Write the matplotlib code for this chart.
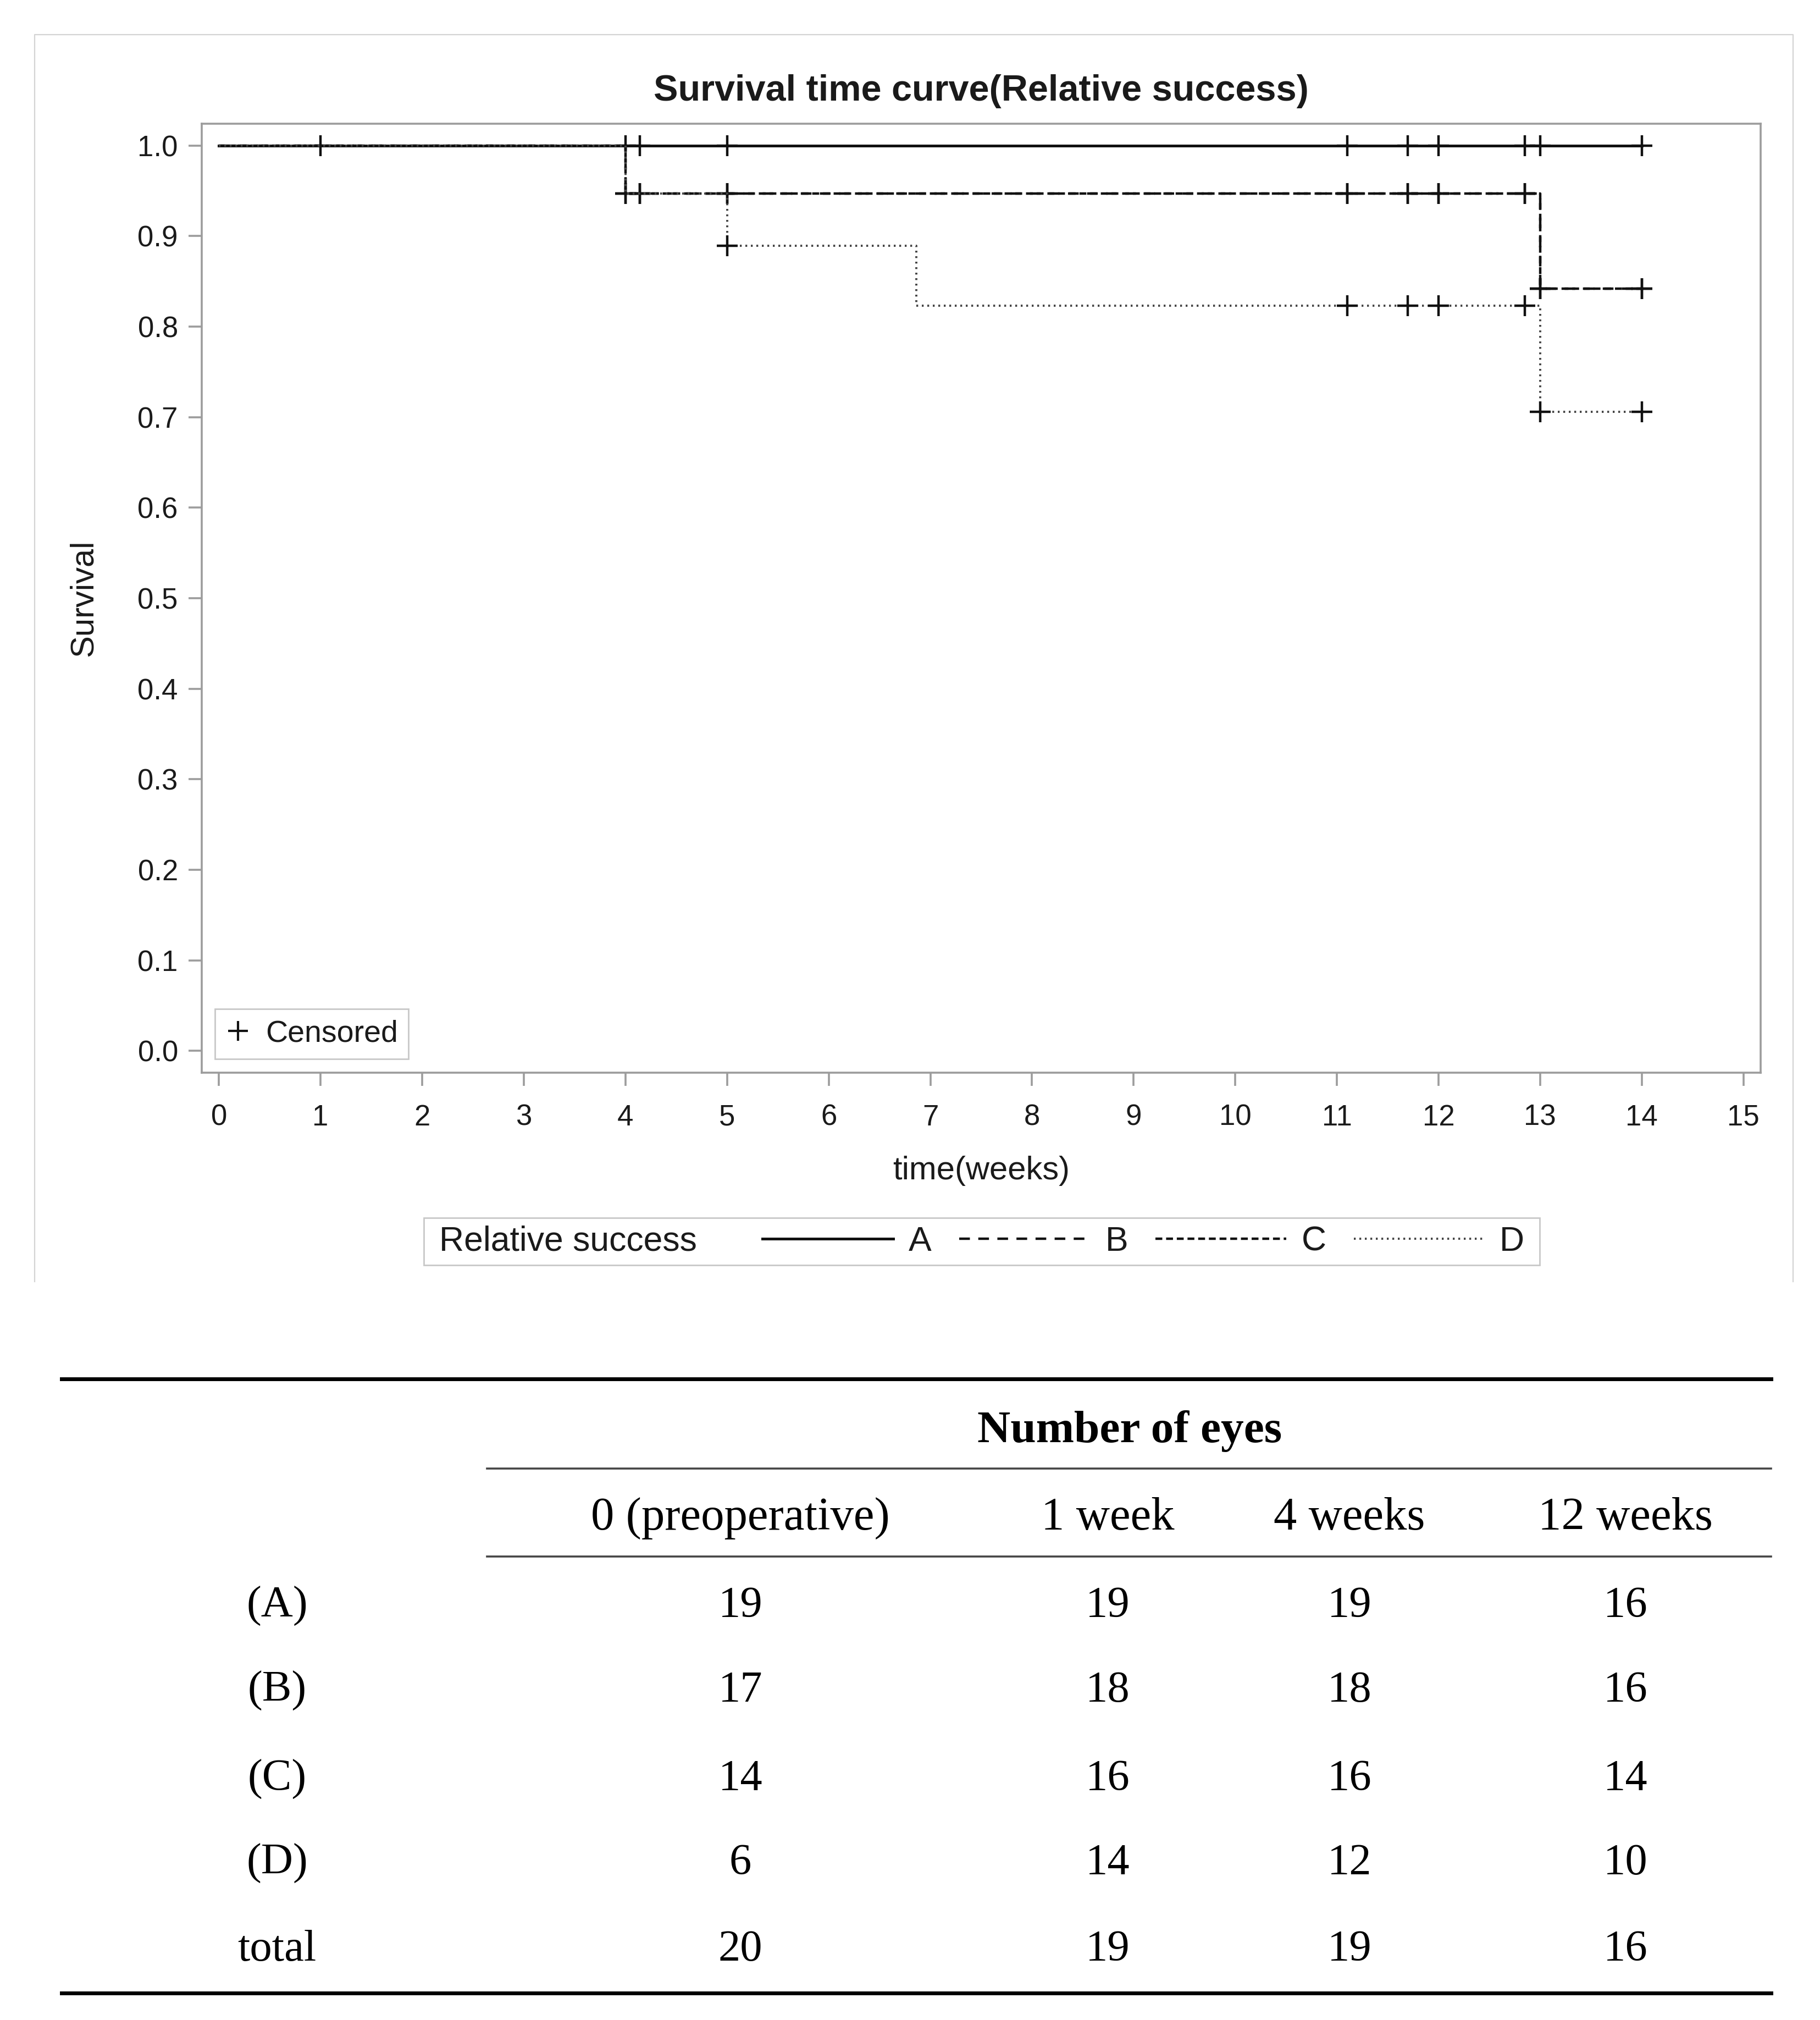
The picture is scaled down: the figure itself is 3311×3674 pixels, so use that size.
import matplotlib
matplotlib.use('Agg')
import matplotlib.pyplot as plt
from matplotlib.lines import Line2D
from matplotlib.offsetbox import DrawingArea, HPacker
import numpy as np

plt.rcParams['font.family'] = ['Liberation Sans', 'DejaVu Sans']
plt.rcParams['lines.scale_dashes'] = False

# ---------------- data ----------------
groups = ['A', 'B', 'C', 'D']

a_times = [0, 14]
a_surv = [1.0, 1.0]
b_times = [0, 4, 13, 14]
b_surv = [1.0, 0.947, 0.842, 0.842]
c_times = [0, 4, 13, 14]
c_surv = [1.0, 0.947, 0.842, 0.842]
d_times = [0, 4, 5, 6.86, 13, 14]
d_surv = [1.0, 0.947, 0.889, 0.823, 0.706, 0.706]

a_cens_t = [1, 4, 4.14, 5, 11.1, 11.7, 12, 12.85, 13, 14]
a_cens_s = [1.0, 1.0, 1.0, 1.0, 1.0, 1.0, 1.0, 1.0, 1.0, 1.0]
b_cens_t = [4, 4.14, 5, 11.1, 11.7, 12, 12.85, 13, 14]
b_cens_s = [0.947, 0.947, 0.947, 0.947, 0.947, 0.947, 0.947, 0.842, 0.842]
c_cens_t = [4, 4.14, 5, 11.1, 11.7, 12, 12.85, 13, 14]
c_cens_s = [0.947, 0.947, 0.947, 0.947, 0.947, 0.947, 0.947, 0.842, 0.842]
d_cens_t = [5, 11.1, 11.7, 12, 12.85, 13, 14]
d_cens_s = [0.889, 0.823, 0.823, 0.823, 0.823, 0.706, 0.706]

x_ticks = list(range(0, 16))
y_ticks = [0.0, 0.1, 0.2, 0.3, 0.4, 0.5, 0.6, 0.7, 0.8, 0.9, 1.0]

table_cols = ['0 (preoperative)', '1 week', '4 weeks', '12 weeks']
table_rows = ['(A)', '(B)', '(C)', '(D)', 'total']
eyes_A = [19, 19, 19, 16]
eyes_B = [17, 18, 18, 16]
eyes_C = [14, 16, 16, 14]
eyes_D = [6, 14, 12, 10]
eyes_total = [20, 19, 19, 16]

# ---------------- styles ----------------
styles = {
    'A': dict(linestyle='-', lw=3.6, color='#111111'),
    'B': dict(linestyle=(0, (14, 11)), lw=3.2, color='#111111'),
    'C': dict(linestyle=(0, (9, 5)), lw=3.2, color='#111111'),
    'D': dict(linestyle=(0, (2.4, 4.8)), lw=2.8, color='#444444'),
}
spine_c = '#9c9c9c'
text_c = '#1a1a1a'
mk = dict(ls='none', marker='+', ms=28, mew=3.2, color='#111111')

fig = plt.figure(figsize=(33.11, 36.74), dpi=100)
ax = fig.add_axes([0.1108, 0.46898, 0.8566, 0.46978])

series = [(a_times, a_surv, a_cens_t, a_cens_s),
          (b_times, b_surv, b_cens_t, b_cens_s),
          (c_times, c_surv, c_cens_t, c_cens_s),
          (d_times, d_surv, d_cens_t, d_cens_s)]
handles = []
for g, (t, s, ct, cs) in zip(groups, series):
    ln, = ax.step(t, s, where='post', **styles[g])
    handles.append(ln)
    ax.plot(ct, cs, **mk)

ax.set_xlim(-0.17, 15.17)
ax.set_ylim(-0.024, 1.024)
ax.set_xticks(x_ticks)
ax.set_yticks(y_ticks)
ax.set_yticklabels([f'{v:.1f}' for v in y_ticks])
for sp in ax.spines.values():
    sp.set_color(spine_c)
    sp.set_linewidth(2.6)
ax.tick_params(axis='both', length=17, width=2.6, color=spine_c,
               labelsize=38, labelcolor=text_c)
ax.tick_params(axis='x', pad=24)
ax.tick_params(axis='y', pad=14)

ax.set_ylabel('Survival', fontsize=43, color=text_c)
ax.yaxis.set_label_coords(-0.0758, 0.5)
ax.yaxis.label.set_va('center')
ax.set_xlabel('time(weeks)', fontsize=43, color=text_c)
ax.xaxis.set_label_coords(0.5, -0.1035)
ax.xaxis.label.set_va('center')

ax.set_title('Survival time curve(Relative success)', fontsize=48,
             fontweight='bold', color=text_c, pad=30)

cens_handle = Line2D([], [], ls='none', marker='+', ms=26, mew=3.0, color='#111111')
leg1 = ax.legend(handles=[cens_handle], labels=['Censored'], loc='lower left',
                 bbox_to_anchor=(0.0085, 0.0145), borderaxespad=0,
                 fancybox=False, edgecolor='#c8c8c8', fontsize=40,
                 handlelength=0.8, handletextpad=0.5, borderpad=0.35,
                 framealpha=1)
leg1.get_frame().set_linewidth(2)
for t in leg1.get_texts():
    t.set_color(text_c)

leg2 = fig.legend(handles=handles, labels=groups, ncols=4,
                  title='Relative success', title_fontsize=45, fontsize=45,
                  loc='center', bbox_to_anchor=(0.5395, 0.3854),
                  fancybox=False, edgecolor='#c8c8c8', framealpha=1,
                  handlelength=3.8, handletextpad=0.45, columnspacing=0.9,
                  borderpad=0.22)
leg2.get_frame().set_linewidth(2)
vp = leg2._legend_box
title_box, cols_box = vp.get_children()
cols_box._children = [title_box, DrawingArea(14, 0)] + cols_box.get_children()
cols_box.sep = 36
outer = HPacker(pad=0, sep=0, align='center',
                children=[DrawingArea(10, 0), cols_box, DrawingArea(10, 0)])
vp._children = [outer]
for t in leg2.get_texts():
    t.set_color(text_c)
leg2.get_title().set_color(text_c)

# outer light frame of the chart image (open at the bottom)
fig.add_artist(Line2D([0.019, 0.019, 0.9852, 0.9852],
                      [0.3655, 0.98285, 0.98285, 0.3655],
                      transform=fig.transFigure, color='#d4d4d4', lw=1.6))

# ---------------- table ----------------
serif = ['Liberation Serif', 'DejaVu Serif']
fig.add_artist(Line2D([0.0338, 0.9731], [0.31736, 0.31736],
                      transform=fig.transFigure, color='black', lw=5))
fig.add_artist(Line2D([0.2676, 0.9731], [0.2730, 0.2730],
                      transform=fig.transFigure, color='#444444', lw=2.6))
fig.add_artist(Line2D([0.2676, 0.9731], [0.22945, 0.22945],
                      transform=fig.transFigure, color='#444444', lw=2.6))
fig.add_artist(Line2D([0.0338, 0.9731], [0.01334, 0.01334],
                      transform=fig.transFigure, color='black', lw=5))

fig.text(0.6207, 0.2915, 'Number of eyes', family=serif, fontsize=60,
         fontweight='bold', ha='center', va='center', color='black')
col_x = [0.4068, 0.6086, 0.7415, 0.8931]
for x, lab in zip(col_x, table_cols):
    fig.text(x, 0.2483, lab, family=serif, fontsize=61, ha='center',
             va='center', color='black')
row_y = [0.2048, 0.1628, 0.1192, 0.0774, 0.0346]
table_vals = [eyes_A, eyes_B, eyes_C, eyes_D, eyes_total]
for y, lab, vals in zip(row_y, table_rows, table_vals):
    fig.text(0.1522, y, lab, family=serif, fontsize=58, ha='center',
             va='center', color='black')
    for x, v in zip(col_x, vals):
        fig.text(x, y, str(v), family=serif, fontsize=58, ha='center',
                 va='center', color='black')

fig.savefig('out.png', dpi=100, facecolor='white')
